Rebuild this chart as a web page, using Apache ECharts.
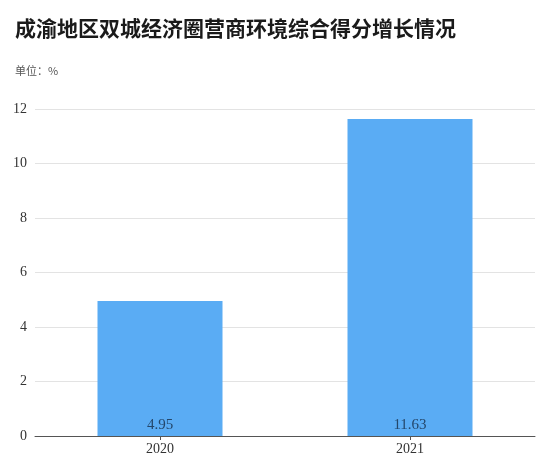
<!DOCTYPE html>
<html>
  <head>
      <meta charset="utf-8">
      <script src="https://cdn.jsdelivr.net/npm/echarts@6/dist/echarts.min.js"></script>
      <style>
          html, body { margin: 0; padding: 0; background: #fff; }
      </style>
  </head>
  <body>
      <div id="main" style="width: 550px;height:468px;"></div>
      <script type="text/javascript">
          var years = ['2020', '2021'];
          var growth = [4.95, 11.63];
          var yTicks = [0, 2, 4, 6, 8, 10, 12];

          var serif = '"Liberation Serif", "Noto Sans CJK SC", serif';
          var myChart = echarts.init(document.getElementById('main'));

          var option = {
              backgroundColor: '#fff',
              title: [
                  {
                      text: '成渝地区双城经济圈营商环境综合得分增长情况',
                      left: 10,
                      top: 13,
                      textStyle: {
                          fontFamily: '"Noto Sans CJK SC"',
                          fontWeight: 'bold',
                          fontSize: 21,
                          color: '#1a1a1a'
                      }
                  },
                  {
                      text: '单位：%',
                      left: 10,
                      top: 60,
                      textStyle: {
                          fontFamily: '"Noto Sans CJK SC"',
                          fontWeight: 'normal',
                          fontSize: 11,
                          color: '#555'
                      }
                  }
              ],
              grid: {
                  left: 35,
                  right: 15,
                  top: 109,
                  bottom: 32,
                  containLabel: false
              },
              xAxis: {
                  type: 'category',
                  data: years,
                  axisLine: { lineStyle: { color: '#555', width: 1 } },
                  axisTick: { show: true, alignWithLabel: true, length: 4, lineStyle: { color: '#555' } },
                  axisLabel: { fontFamily: serif, fontSize: 14, color: '#333', margin: 6 }
              },
              yAxis: {
                  type: 'value',
                  min: yTicks[0],
                  max: yTicks[yTicks.length - 1],
                  interval: 2,
                  axisLine: { show: false },
                  axisTick: { show: false },
                  splitLine: { lineStyle: { color: '#e3e3e3' } },
                  axisLabel: { fontFamily: serif, fontSize: 14, color: '#333', margin: 8 }
              },
              series: [
                  {
                      type: 'bar',
                      data: growth,
                      barWidth: '50%',
                      itemStyle: { color: '#5aacf4' },
                      label: {
                          show: true,
                          position: 'insideBottom',
                          distance: 3,
                          fontFamily: serif,
                          fontSize: 15,
                          color: '#24476b'
                      }
                  }
              ]
          };
          myChart.setOption(option);
      </script>
  </body>
</html>
